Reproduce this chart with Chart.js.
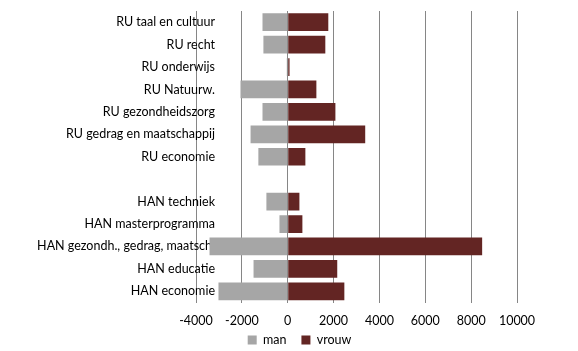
<!DOCTYPE html>
<html lang="nl">

<head>
    <meta charset="UTF-8">
    <title>Man / vrouw per faculteit</title>
    <script src="https://cdn.jsdelivr.net/npm/chart.js"></script>
    <style>
        body {
            margin: 0;
            background: #fff;
        }

        .wrap {
            width: 578px;
            height: 351px;
        }
    </style>
</head>

<body>
    <div class="wrap">
        <canvas id="myChart"></canvas>
    </div>

    <script>
        const categories = [
            'RU taal en cultuur', 'RU recht', 'RU onderwijs', 'RU Natuurw.',
            'RU gezondheidszorg', 'RU gedrag en maatschappij', 'RU economie',
            '',
            'HAN techniek', 'HAN masterprogramma', 'HAN gezondh., gedrag, maatsch.',
            'HAN educatie', 'HAN economie'
        ];
        const manValues = [-1100, -1060, -40, -2060, -1100, -1620, -1280, null, -930, -360, -3410, -1490, -3020];
        const vrouwValues = [1770, 1640, 80, 1250, 2080, 3380, 770, null, 510, 640, 8480, 2160, 2470];
        const xTicks = [-4000, -2000, 0, 2000, 4000, 6000, 8000, 10000];

        const fontFamily = 'Lato, Calibri, sans-serif';
        const legendPad = 15;

        // legend sits right of the canvas centre and tight under the axis in the original
        const legendShift = {
            id: 'legendShift',
            afterLayout(chart) {
                const lg = chart.legend;
                lg.left += 41;
                lg.right += 41;
                lg.top = 340 - legendPad - 6.25;
                lg.bottom = chart.height;
            }
        };

        const ctx = document.getElementById('myChart').getContext('2d');

        const chart = new Chart(ctx, {
            type: 'bar',
            data: {
                labels: categories,
                datasets: [{
                    label: 'man',
                    data: manValues,
                    backgroundColor: '#a6a6a6',
                    borderWidth: 0,
                    barPercentage: 0.79,
                    categoryPercentage: 1
                }, {
                    label: 'vrouw',
                    data: vrouwValues,
                    backgroundColor: '#632523',
                    borderWidth: 0,
                    barPercentage: 0.79,
                    categoryPercentage: 1
                }]
            },
            options: {
                indexAxis: 'y',
                responsive: true,
                maintainAspectRatio: false,
                animation: false,
                layout: {
                    padding: { left: 0, right: 61, top: 11, bottom: 0 }
                },
                scales: {
                    x: {
                        stacked: true,
                        min: -4000,
                        max: 10000,
                        afterBuildTicks: scale => {
                            scale.ticks = xTicks.map(v => ({ value: v }));
                        },
                        grid: {
                            color: '#868686',
                            lineWidth: 1,
                            drawTicks: false
                        },
                        border: { display: false },
                        ticks: {
                            padding: 11,
                            color: '#000',
                            autoSkip: false,
                            maxRotation: 0,
                            minRotation: 0,
                            callback: value => String(value),
                            font: { family: fontFamily, size: 12.5 }
                        }
                    },
                    y: {
                        stacked: true,
                        z: 1,
                        afterFit: scale => {
                            scale.width = 196;
                            // labels run into the plot area, so don't clip them
                            scale._computeLabelArea = () => undefined;
                        },
                        grid: { display: false, drawTicks: false },
                        border: { display: false },
                        ticks: {
                            padding: -19,
                            color: '#000',
                            autoSkip: false,
                            font: { family: fontFamily, size: 12.5 }
                        }
                    }
                },
                plugins: {
                    tooltip: { enabled: false },
                    legend: {
                        position: 'bottom',
                        maxHeight: 11.5,
                        labels: {
                            boxWidth: 9,
                            boxHeight: 9,
                            padding: legendPad,
                            color: '#000',
                            font: { family: fontFamily, size: 12.5 }
                        }
                    }
                }
            },
            plugins: [legendShift]
        });
    </script>

</body>

</html>
